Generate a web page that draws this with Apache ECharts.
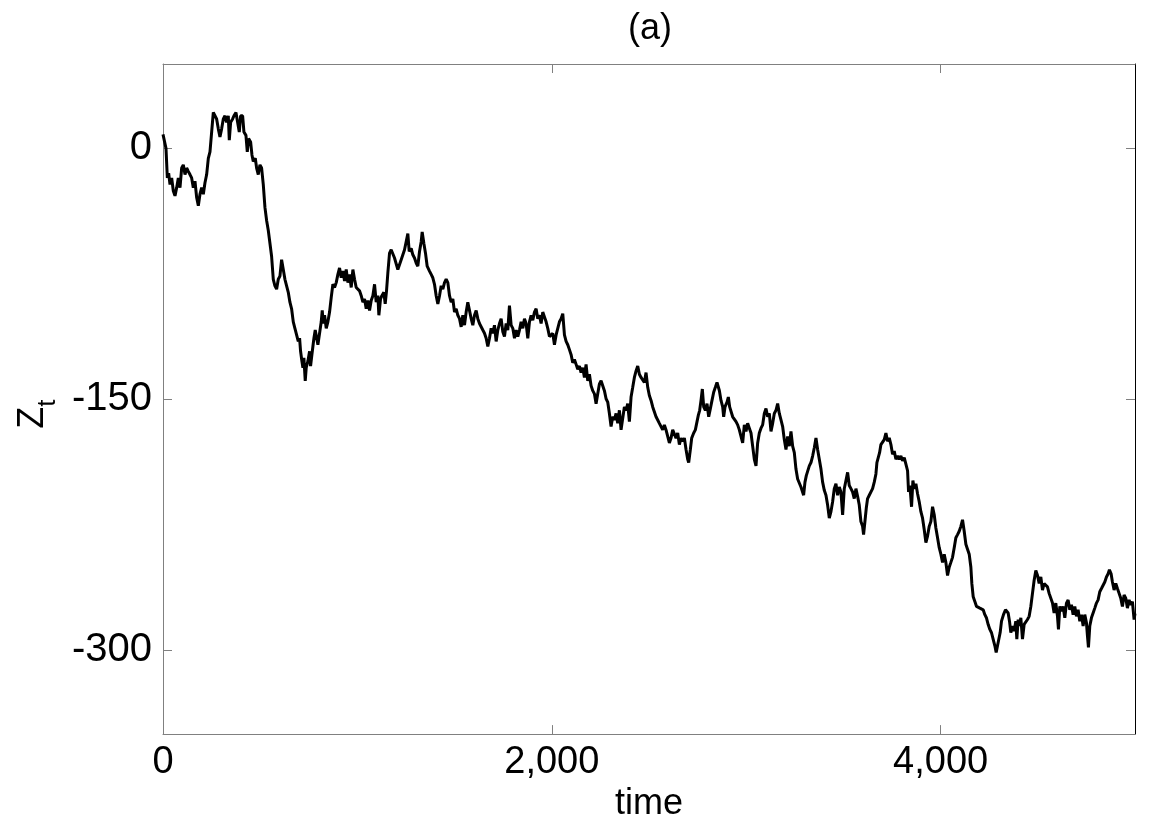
<!DOCTYPE html>
<html>
<head>
<meta charset="utf-8">
<script src="https://cdn.jsdelivr.net/npm/echarts@6/dist/echarts.min.js"></script>
<style>
html,body{margin:0;padding:0;background:#ffffff;}
#chart{width:1170px;height:827px;}
</style>
</head>
<body>
<div id="chart"></div>
<script>
// ---- tick values / labels ----
const xTicks = [0, 2000, 4000];
const yTicks = [-300, -150, 0];
const titleText = '(a)';
const xName = 'time';

// ---- series Z_t : [time, value], in pieces ----
const segA = [[0,8],[15.4,-0.4],[22.3,-18.0],[29.1,-15.1],[36.0,-21.9],[44.6,-18.0],[53.1,-25.8],[61.7,-28.7],[70.3,-23.8],[78.8,-18.0],[87.4,-23.8],[96.0,-12.1],[104.5,-10.2],[113.1,-16.0],[121.7,-12.1],[130.2,-14.1],[138.8,-16.0],[147.4,-18.0],[155.9,-23.8],[164.5,-19.9],[173.1,-29.7],[181.7,-34.6],[190.2,-27.7],[198.8,-23.8],[207.4,-27.7],[215.9,-20.9],[224.5,-16.0],[233.1,-6.3],[241.6,-2.4],[250.2,9.4],[258.8,21.1],[267.3,22.1],[275.9,17.2],[284.5,11.3],[293.0,6.4],[301.6,11.3],[310.2,17.2],[318.8,19.1],[327.3,15.2],[335.9,19.1],[341.0,4.5],[347.9,15.2],[358.2,17.2],[365.0,19.1],[375.3,21.1],[382.2,21.1],[392.4,9.4],[399.3,19.1],[409.6,19.1],[416.4,9.4],[426.7,7.4],[433.6,-2.4],[440.4,5.5],[450.7,3.5],[457.6,-4.3],[464.4,-8.2],[474.7,-6.3],[481.6,-12.1],[490.1,-16.0],[498.7,-10.2],[507.3,-12.1],[515.8,-21.9],[524.4,-35.6],[533.0,-43.4],[541.5,-49.2],[550.1,-57.0],[558.7,-64.9],[567.3,-78.5],[575.8,-82.4],[584.4,-84.4],[593.0,-78.5],[601.5,-76.6],[610.1,-66.8],[618.7,-72.7],[627.2,-78.5],[635.8,-82.4],[644.4,-86.3],[652.9,-92.2],[661.5,-96.1],[670.1,-103.9],[678.6,-107.8],[687.2,-111.7],[695.8,-115.6]];
const segB = [[702.6,-113.7],[707.7,-121.5],[714.6,-127.4],[719.7,-131.3],[724.8,-125.4],[731.7,-139.1],[736.8,-131.3],[745.4,-127.4],[754.0,-121.5],[759.1,-130.3],[766.0,-123.4],[776.3,-113.7],[783.1,-108.8],[790.0,-109.8],[796.8,-117.6],[805.4,-110.7],[814.0,-103.9],[819.1,-97.1],[824.2,-104.9],[831.1,-100.0],[839.7,-107.8],[848.2,-103.9],[856.8,-98.1],[865.4,-89.3],[873.9,-81.5],[882.5,-83.4],[891.1,-80.5],[899.6,-75.6],[908.2,-71.7],[916.8,-77.6],[925.3,-73.6],[933.9,-79.5],[942.5,-72.7],[951.1,-80.5],[959.6,-75.6],[968.2,-83.4],[976.8,-72.7],[985.3,-78.5],[993.9,-83.4],[1002.5,-82.4],[1011.0,-85.4],[1019.6,-88.3],[1028.2,-92.2],[1036.7,-90.3],[1045.3,-96.1],[1053.9,-91.2],[1062.4,-97.1],[1071.0,-91.2],[1079.6,-88.3],[1088.2,-81.5],[1096.7,-92.2],[1105.3,-88.3],[1110.4,-100.0],[1119.0,-90.2],[1125.9,-88.3],[1136.1,-86.3],[1143.0,-93.2],[1149.8,-85.4],[1156.7,-74.6],[1165.3,-62.9],[1173.8,-60.9],[1182.4,-61.9],[1191.0,-65.8],[1199.5,-64.9],[1208.1,-72.7],[1216.7,-73.6],[1225.2,-66.8],[1233.8,-65.8],[1242.4,-60.9],[1251.0,-60.0],[1259.5,-51.2],[1266.4,-61.9],[1276.7,-60.0],[1285.2,-63.9],[1293.8,-65.8],[1302.4,-68.8],[1310.9,-70.7],[1319.5,-61.9],[1328.1,-56.1],[1333.2,-50.2],[1341.8,-57.0],[1350.3,-62.9],[1358.9,-70.7],[1370.9,-73.6],[1379.5,-75.6],[1388.0,-77.6],[1396.6,-81.5],[1405.2,-88.3],[1413.8,-93.2]];
const segC = [[1422.4,-88.3],[1430.9,-82.4],[1439.5,-84.4],[1448.1,-80.5],[1456.6,-78.5],[1465.2,-80.5],[1473.8,-88.3],[1482.3,-92.2],[1490.9,-90.3],[1499.5,-98.1],[1508.1,-96.1],[1516.6,-100.0],[1525.2,-102.0],[1533.8,-106.9],[1542.3,-100.0],[1550.9,-105.9],[1559.5,-98.1],[1568.0,-92.2],[1576.6,-91.2],[1585.2,-102.0],[1593.7,-105.9],[1602.3,-100.0],[1610.9,-97.1],[1619.4,-102.0],[1628.0,-104.9],[1636.6,-103.9],[1645.1,-108.8],[1653.7,-110.7],[1662.3,-113.7],[1670.9,-118.6],[1679.4,-113.7],[1688.0,-107.8],[1696.6,-110.8],[1705.1,-105.9],[1713.7,-115.6],[1722.3,-108.8],[1730.8,-104.9],[1739.4,-102.0],[1748.0,-109.8],[1756.5,-112.7],[1765.1,-104.9],[1773.7,-108.8],[1782.2,-94.2],[1790.8,-105.9],[1799.4,-107.8],[1808.0,-113.7],[1816.5,-108.8],[1825.1,-112.7],[1833.7,-108.8],[1842.2,-103.9],[1850.8,-107.8],[1859.4,-102.0],[1867.9,-104.9],[1876.5,-113.7],[1885.1,-103.9],[1893.6,-100.0],[1902.2,-102.9],[1910.8,-98.1],[1919.3,-96.1],[1927.9,-102.0],[1936.5,-100.0],[1945.0,-104.9],[1953.6,-98.1],[1962.2,-101.0],[1970.8,-103.9],[1979.3,-107.8],[1987.9,-112.7],[1996.5,-111.7],[2005.0,-110.8],[2013.6,-117.6],[2022.2,-111.7],[2030.7,-107.8],[2039.3,-103.9],[2047.9,-102.0],[2056.4,-99.0],[2065.0,-111.7],[2073.6,-115.6],[2082.1,-117.6],[2090.7,-120.5],[2099.3,-123.5],[2107.8,-128.3],[2116.4,-126.4],[2125.0,-129.3],[2133.5,-132.2]];
const segD = [[2142.1,-130.3],[2150.6,-134.2],[2159.2,-131.3],[2167.8,-137.1],[2176.3,-129.3],[2184.9,-139.1],[2193.5,-135.2],[2202.0,-142.0],[2210.6,-145.0],[2219.2,-146.9],[2227.8,-152.8],[2236.3,-146.9],[2244.9,-141.0],[2253.5,-139.1],[2262.0,-140.1],[2270.6,-145.0],[2279.2,-149.8],[2287.7,-151.8],[2296.3,-158.6],[2304.9,-166.4],[2313.4,-160.6],[2322.0,-162.5],[2330.6,-158.6],[2339.1,-164.5],[2347.7,-156.7],[2356.3,-168.4],[2364.8,-161.5],[2373.4,-154.7],[2382.0,-156.7],[2390.6,-152.8],[2399.1,-163.5],[2407.7,-148.8],[2416.3,-143.0],[2424.8,-137.1],[2433.4,-133.2],[2442.0,-130.3],[2450.5,-135.2],[2459.1,-137.1],[2467.7,-138.1],[2476.2,-140.1],[2484.8,-134.2],[2493.4,-143.0],[2501.9,-147.9],[2510.5,-150.8],[2519.1,-154.7],[2527.7,-153.7],[2536.2,-160.6],[2544.8,-162.5],[2553.4,-164.5],[2561.9,-163.5],[2570.5,-168.4],[2579.1,-165.4],[2587.6,-168.4],[2596.2,-172.3],[2604.8,-176.2],[2613.3,-173.3],[2621.9,-168.4],[2630.5,-169.4],[2639.0,-173.3],[2647.6,-170.3],[2656.2,-177.2],[2664.7,-173.3],[2673.3,-175.2],[2681.9,-173.3],[2690.5,-180.1],[2699.0,-186.0],[2704.2,-187.9],[2712.7,-180.1],[2719.6,-173.3],[2729.9,-170.3],[2738.4,-168.4],[2747.0,-163.5],[2753.9,-159.6],[2760.7,-156.7],[2767.6,-150.8],[2774.4,-144.0],[2781.3,-154.7],[2789.9,-156.7],[2798.4,-152.8],[2807.0,-160.6],[2815.6,-155.7],[2824.1,-150.8],[2832.7,-145.9],[2841.3,-143.0],[2849.8,-140.1]];
const segE = [[2861.9,-144.9],[2870.4,-150.8],[2879.0,-154.7],[2884.1,-160.6],[2891.0,-154.7],[2901.3,-151.8],[2908.1,-148.8],[2915.0,-154.7],[2921.8,-154.7],[2930.4,-160.6],[2939.0,-161.5],[2947.6,-163.5],[2956.1,-165.4],[2964.7,-168.4],[2973.3,-169.3],[2981.8,-176.2],[2990.4,-165.4],[2999.0,-169.3],[3007.5,-164.5],[3016.1,-167.4],[3024.7,-170.3],[3033.2,-178.1],[3041.8,-186.0],[3050.4,-189.9],[3058.9,-176.2],[3067.5,-170.3],[3076.1,-167.4],[3084.6,-165.4],[3093.2,-158.6],[3101.8,-155.7],[3110.4,-160.6],[3118.9,-158.6],[3127.5,-169.3],[3136.1,-164.5],[3144.6,-158.6],[3153.2,-156.7],[3161.8,-152.7],[3170.3,-158.6],[3178.9,-162.5],[3187.5,-166.4],[3196.0,-174.2],[3204.6,-180.1],[3213.2,-172.3],[3221.8,-178.1],[3230.3,-169.3],[3238.9,-178.1],[3247.5,-182.0],[3256.0,-191.8],[3264.6,-197.7],[3273.2,-198.6],[3281.7,-202.5],[3290.3,-203.5],[3295.4,-207.4],[3302.3,-199.6],[3309.2,-195.7],[3316.0,-196.7],[3324.6,-189.9],[3333.2,-187.9],[3341.7,-184.0],[3350.3,-179.1],[3358.9,-173.3],[3367.4,-180.1],[3376.0,-186.0],[3384.6,-191.8],[3393.1,-199.6],[3401.7,-204.5],[3410.3,-207.4],[3418.8,-213.3],[3427.4,-221.1],[3436.0,-217.2],[3444.5,-211.3],[3453.1,-203.5],[3461.7,-200.6],[3470.2,-207.4],[3478.8,-202.5],[3487.4,-205.5],[3496.0,-219.2],[3504.5,-203.5],[3513.1,-198.6],[3521.7,-193.8],[3530.2,-201.6],[3538.8,-203.5],[3547.4,-205.5],[3555.9,-209.4],[3564.5,-203.5],[3573.0,-208.0]];
const segF = [[3581.6,-213.3],[3590.1,-223.1],[3598.7,-226.0],[3603.8,-230.9],[3610.7,-223.1],[3617.6,-215.2],[3624.4,-209.4],[3633.0,-207.4],[3641.5,-206.5],[3650.1,-203.5],[3658.7,-199.6],[3667.3,-194.7],[3672.4,-187.9],[3679.3,-186.9],[3686.1,-182.0],[3693.0,-177.2],[3701.5,-176.2],[3710.1,-174.2],[3718.7,-170.3],[3727.2,-175.2],[3735.8,-173.2],[3744.4,-177.2],[3752.9,-183.0],[3761.5,-181.1],[3770.1,-185.9],[3778.6,-184.0],[3787.2,-185.9],[3795.8,-184.0],[3804.3,-186.9],[3812.9,-185.0],[3821.5,-188.9],[3830.1,-192.8],[3835.2,-205.5],[3842.1,-201.6],[3850.6,-214.3],[3857.5,-198.6],[3864.3,-203.5],[3872.9,-200.6],[3881.5,-206.5],[3890.0,-211.3],[3898.6,-217.2],[3907.2,-221.1],[3915.7,-227.9],[3924.3,-235.7],[3932.9,-231.8],[3941.5,-226.0],[3950.0,-223.1],[3958.6,-214.3],[3967.2,-219.1],[3975.7,-227.0],[3984.3,-232.8],[3992.9,-238.7],[4001.4,-242.6],[4010.0,-247.5],[4018.6,-242.6],[4027.1,-247.5],[4035.7,-255.3],[4044.3,-250.4],[4052.8,-247.5],[4061.4,-244.5],[4070.0,-238.7],[4078.5,-232.8],[4087.1,-230.9],[4095.7,-228.9],[4104.2,-226.0],[4112.8,-222.1],[4121.4,-228.9],[4130.0,-236.7],[4138.5,-239.6],[4147.1,-242.6],[4155.7,-250.4],[4160.8,-260.2],[4167.7,-268.0],[4176.2,-270.9],[4184.8,-273.8],[4193.4,-272.9],[4201.9,-274.8],[4210.5,-273.8],[4219.1,-275.8],[4227.6,-278.7],[4236.2,-280.7],[4244.8,-284.6],[4253.4,-287.5],[4261.9,-289.5],[4270.5,-293.4],[4279.1,-297.3],[4285.9,-301.2],[4292.8,-297.3],[4301.3,-297.0]];
const segG = [[4306.4,-289.4],[4313.3,-282.6],[4323.5,-278.7],[4333.8,-275.8],[4340.7,-274.8],[4347.5,-277.7],[4354.4,-282.6],[4361.2,-289.4],[4369.8,-285.5],[4378.4,-288.5],[4386.9,-282.6],[4392.1,-293.3],[4399.0,-281.6],[4405.8,-285.5],[4412.7,-280.6],[4421.2,-293.3],[4429.8,-284.5],[4438.4,-283.6],[4446.9,-281.6],[4455.5,-279.7],[4464.1,-273.8],[4472.6,-266.0],[4481.2,-258.2],[4489.8,-252.3],[4498.3,-255.2],[4506.9,-260.1],[4515.5,-256.2],[4524.1,-264.0],[4532.6,-260.1],[4541.2,-259.2],[4549.8,-262.1],[4558.3,-266.0],[4566.9,-265.0],[4575.5,-271.8],[4584.0,-277.7],[4592.6,-271.8],[4601.2,-279.7],[4606.3,-287.5],[4613.2,-273.8],[4621.7,-276.7],[4630.3,-273.8],[4638.9,-280.6],[4647.4,-271.8],[4656.0,-269.9],[4664.6,-275.8],[4673.1,-272.8],[4681.7,-278.7],[4690.3,-273.8],[4698.8,-279.7],[4707.4,-275.8],[4716.0,-282.6],[4724.5,-278.7],[4733.1,-285.5],[4741.7,-278.7],[4750.3,-283.6],[4755.4,-291.4],[4760.5,-298.2],[4767.4,-285.5],[4776.0,-280.6],[4784.5,-277.7],[4793.1,-274.8],[4801.7,-271.8],[4810.2,-269.9],[4818.8,-265.0],[4827.4,-263.1],[4835.9,-262.1],[4844.5,-259.2],[4853.1,-256.2],[4861.7,-254.3],[4868.5,-251.9],[4877.1,-254.3],[4883.9,-259.2],[4892.5,-264.0],[4901.1,-260.1],[4909.6,-263.1],[4918.2,-266.0],[4926.8,-268.9],[4935.3,-273.8],[4943.9,-267.0],[4952.5,-268.9],[4961.0,-274.8],[4969.6,-269.9],[4978.2,-272.8],[4986.7,-270.9],[4995.3,-281.6],[5000,-278.0]];

const ztData = [].concat(segA, segB, segC, segD, segE, segF, segG);

const FONT = '"Liberation Sans", Arial, Helvetica, sans-serif';
const GRAY = '#808080';

const chart = echarts.init(document.getElementById('chart'), null, {renderer: 'canvas'});

const tickCommon = {show: true, inside: true, length: 9, lineStyle: {color: GRAY, width: 1}};

chart.setOption({
  animation: false,
  backgroundColor: '#ffffff',
  grid: {left: 163, right: 35, top: 64, bottom: 80, containLabel: false, show: false},
  graphic: [{
    type: 'text', x: 650, y: 29,
    style: {text: titleText, font: '36px ' + FONT, fill: '#000', align: 'center', verticalAlign: 'middle'}
  }],
  xAxis: [{
    type: 'value', min: 0, max: 5000, position: 'bottom',
    axisLine: {show: true, onZero: false, lineStyle: {color: GRAY, width: 1}},
    axisTick: Object.assign({customValues: xTicks}, tickCommon),
    axisLabel: {customValues: xTicks, margin: 9, fontSize: 38, fontFamily: FONT, color: '#000',
      formatter: v => Number(v).toLocaleString('en-US')},
    splitLine: {show: false},
    name: xName, nameLocation: 'middle', nameGap: 42,
    nameTextStyle: {fontSize: 36, fontFamily: FONT, color: '#000'}
  }, {
    type: 'value', min: 0, max: 5000, position: 'top',
    axisLine: {show: true, onZero: false, lineStyle: {color: GRAY, width: 1}},
    axisTick: Object.assign({customValues: xTicks}, tickCommon),
    axisLabel: {show: false}, splitLine: {show: false}
  }],
  yAxis: [{
    type: 'value', min: -350, max: 50, position: 'left',
    axisLine: {show: true, onZero: false, lineStyle: {color: GRAY, width: 1}},
    axisTick: Object.assign({customValues: yTicks}, tickCommon),
    axisLabel: {customValues: yTicks, margin: 11, fontSize: 40, fontFamily: FONT, color: '#000'},
    splitLine: {show: false},
    name: '{z|Z}{s|t}', nameLocation: 'middle', nameRotate: 90, nameGap: 102,
    nameTextStyle: {
      padding: [0, 30, 0, 0],
      rich: {
        z: {fontSize: 36, fontFamily: FONT, color: '#000', lineHeight: 36, verticalAlign: 'top'},
        s: {fontSize: 26, fontFamily: FONT, color: '#000', lineHeight: 46, verticalAlign: 'bottom'}
      }
    }
  }, {
    type: 'value', min: -350, max: 50, position: 'right',
    axisLine: {show: true, onZero: false, lineStyle: {color: '#000', width: 1}},
    axisTick: Object.assign({customValues: yTicks}, tickCommon),
    axisLabel: {show: false}, splitLine: {show: false}
  }],
  series: [{
    type: 'line', xAxisIndex: 0, yAxisIndex: 0,
    data: ztData, showSymbol: false, symbol: 'none',
    lineStyle: {color: '#000', width: 3}, silent: true
  }]
});
</script>
</body>
</html>
